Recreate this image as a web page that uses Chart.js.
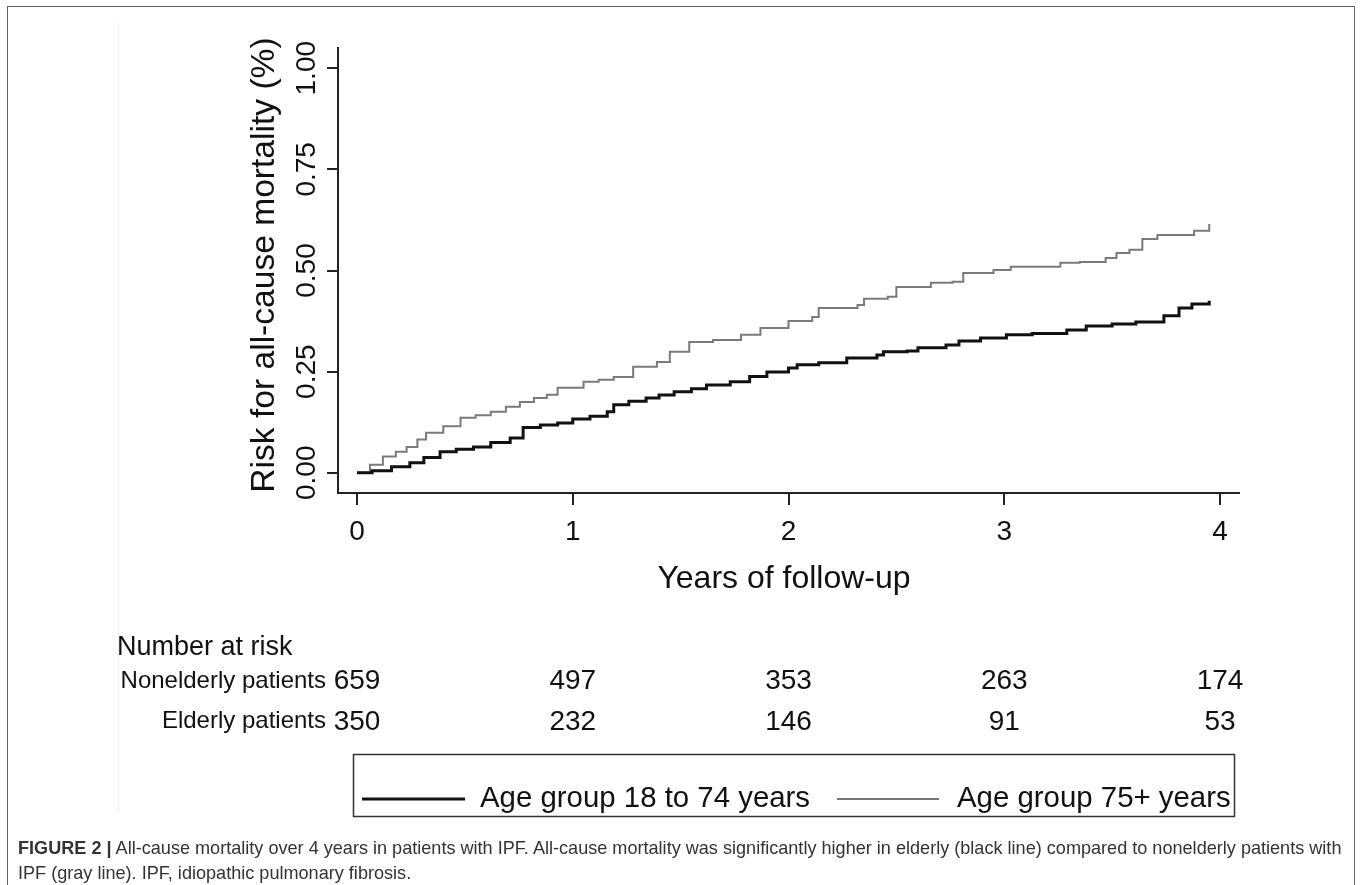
<!DOCTYPE html>
<html><head><meta charset="utf-8">
<script src="https://cdn.jsdelivr.net/npm/chart.js@4.4.1/dist/chart.umd.min.js"></script>
<style>
html,body{margin:0;padding:0;background:#fff;}
#wrap{position:relative;width:1360px;height:885px;overflow:hidden;background:#fff;}
#frame{position:absolute;left:7px;top:6px;width:1348px;height:920px;border:1.5px solid #666;box-sizing:border-box;}
#inner{position:absolute;left:118px;top:22px;width:1px;height:790px;background:#eeeeee;}
#c{position:absolute;left:0;top:0;}
#cap{position:absolute;left:18px;top:836px;font-family:'Liberation Sans Narrow','Liberation Sans',Arial,sans-serif;font-size:18.1px;color:#333;line-height:25px;white-space:nowrap;}
</style></head><body>
<div id="wrap">
<div id="inner"></div>
<canvas id="c" width="1360" height="885"></canvas>
<div id="frame"></div>
<div id="cap"><b>FIGURE 2 |</b> All-cause mortality over 4 years in patients with IPF. All-cause mortality was significantly higher in elderly (black line) compared to nonelderly patients with<br>IPF (gray line). IPF, idiopathic pulmonary fibrosis.</div>
</div>
<script>
// ---- data ----
const blackTimes = [0,0.07,0.16,0.245,0.31,0.385,0.46,0.54,0.62,0.71,0.77,0.85,0.93,1.0,1.08,1.16,1.19,1.26,1.34,1.40,1.47,1.55,1.62,1.73,1.82,1.9,2.0,2.04,2.14,2.27,2.41,2.44,2.55,2.6,2.73,2.79,2.89,3.01,3.13,3.29,3.38,3.5,3.61,3.74,3.81,3.87,3.95];
const blackRisk  = [0,0.005,0.015,0.025,0.038,0.052,0.058,0.064,0.075,0.086,0.112,0.118,0.123,0.133,0.14,0.151,0.168,0.177,0.185,0.192,0.2,0.208,0.217,0.225,0.238,0.249,0.259,0.267,0.272,0.284,0.291,0.299,0.301,0.309,0.316,0.326,0.333,0.341,0.344,0.353,0.363,0.368,0.373,0.388,0.407,0.417,0.425];
const grayTimes = [0,0.06,0.12,0.18,0.23,0.28,0.32,0.40,0.48,0.55,0.62,0.69,0.755,0.82,0.88,0.93,1.05,1.12,1.19,1.28,1.39,1.45,1.54,1.65,1.78,1.87,2.0,2.11,2.14,2.32,2.35,2.46,2.5,2.66,2.76,2.81,2.95,3.03,3.26,3.35,3.47,3.52,3.58,3.64,3.71,3.88,3.95];
const grayRisk  = [0,0.02,0.04,0.052,0.064,0.082,0.099,0.115,0.136,0.142,0.151,0.163,0.175,0.185,0.193,0.21,0.225,0.23,0.237,0.262,0.274,0.299,0.323,0.328,0.341,0.358,0.375,0.385,0.407,0.415,0.43,0.435,0.459,0.47,0.472,0.494,0.501,0.509,0.519,0.521,0.531,0.543,0.551,0.578,0.588,0.598,0.615];
const xTicks = [0,1,2,3,4];
const xTickLabels = ['0','1','2','3','4'];
const yTicks = [0,0.25,0.5,0.75,1];
const yTickLabels = ['0.00','0.25','0.50','0.75','1.00'];
const seriesNames = ['Age group 18 to 74 years','Age group 75+ years'];
const riskGroups = ['Nonelderly patients','Elderly patients'];
const riskTimes = [0,1,2,3,4];
const riskNonelderly = [659,497,353,263,174];
const riskElderly = [350,232,146,91,53];

const FONT = "'Liberation Sans', Arial, sans-serif";

function pts(t, v){ return t.map((x,i)=>({x:x, y:v[i]})); }

const overlay = {
  id:'overlay',
  afterDraw(chart){
    const ctx = chart.ctx, xs = chart.scales.x, ys = chart.scales.y;
    ctx.save();
    ctx.fillStyle = '#111';
    // y tick labels (rotated)
    ctx.font = '28px ' + FONT;
    ctx.textAlign = 'center'; ctx.textBaseline = 'alphabetic';
    yTicks.forEach((v,i)=>{
      ctx.save(); ctx.translate(315, ys.getPixelForValue(v)); ctx.rotate(-Math.PI/2);
      ctx.fillText(yTickLabels[i], 0, 0); ctx.restore();
    });
    // x tick labels
    xTicks.forEach((v,i)=>{ ctx.fillText(xTickLabels[i], xs.getPixelForValue(v), 540); });
    // y title
    ctx.font = '33.6px ' + FONT;
    ctx.save(); ctx.translate(274, 265); ctx.rotate(-Math.PI/2);
    ctx.fillText('Risk for all-cause mortality (%)', 0, 0); ctx.restore();
    // x title
    ctx.font = '32px ' + FONT;
    ctx.fillText('Years of follow-up', 784, 588);
    // number at risk
    ctx.textAlign = 'left';
    ctx.font = '27px ' + FONT;
    ctx.fillText('Number at risk', 117, 655);
    ctx.textAlign = 'right';
    ctx.font = '24px ' + FONT;
    ctx.fillText(riskGroups[0], 326, 688);
    ctx.fillText(riskGroups[1], 326, 728);
    ctx.font = '28px ' + FONT;
    ctx.textAlign = 'center';
    riskNonelderly.forEach((n,i)=> ctx.fillText(String(n), xs.getPixelForValue(riskTimes[i]), 689));
    riskElderly.forEach((n,i)=> ctx.fillText(String(n), xs.getPixelForValue(riskTimes[i]), 730));
    // legend box
    ctx.strokeStyle = '#333'; ctx.lineWidth = 1.5;
    ctx.strokeRect(353.5, 754.5, 881, 62);
    ctx.strokeStyle = '#111'; ctx.lineWidth = 3;
    ctx.beginPath(); ctx.moveTo(362, 799); ctx.lineTo(465, 799); ctx.stroke();
    ctx.strokeStyle = '#777'; ctx.lineWidth = 2;
    ctx.beginPath(); ctx.moveTo(837, 799); ctx.lineTo(939, 799); ctx.stroke();
    ctx.font = '29.4px ' + FONT; ctx.textAlign = 'left';
    ctx.fillText(seriesNames[0], 480, 807);
    ctx.fillText(seriesNames[1], 957, 807);
    ctx.restore();
  }
};

Chart.defaults.font.family = FONT;
new Chart(document.getElementById('c'), {
  type:'line',
  data:{ datasets:[
    {label:seriesNames[0], data:pts(blackTimes, blackRisk), borderColor:'#111', borderWidth:3, pointRadius:0, stepped:'before', fill:false},
    {label:seriesNames[1], data:pts(grayTimes, grayRisk), borderColor:'#7a7a7a', borderWidth:2, pointRadius:0, stepped:'before', fill:false}
  ]},
  options:{
    responsive:false, animation:false, devicePixelRatio:1,
    layout:{padding:{left:0, top:48, right:121, bottom:0}},
    plugins:{legend:{display:false}, tooltip:{enabled:false}},
    scales:{
      x:{type:'linear', min:-0.088, max:4.088,
         afterBuildTicks:s=>{ s.ticks = xTicks.map(v=>({value:v})); },
         afterFit:s=>{ s.height = 392; },
         grid:{display:true, drawOnChartArea:false, drawTicks:true, tickLength:12, color:'#222', lineWidth:2},
         border:{display:true, color:'#222', width:2},
         ticks:{display:false}},
      y:{type:'linear', min:-0.05, max:1.05,
         afterBuildTicks:s=>{ s.ticks = yTicks.map(v=>({value:v})); },
         afterFit:s=>{ s.width = 338; },
         grid:{display:true, drawOnChartArea:false, drawTicks:true, tickLength:11, color:'#222', lineWidth:2},
         border:{display:true, color:'#222', width:2},
         ticks:{display:false}}
    }
  },
  plugins:[overlay]
});
</script>
</body></html>
